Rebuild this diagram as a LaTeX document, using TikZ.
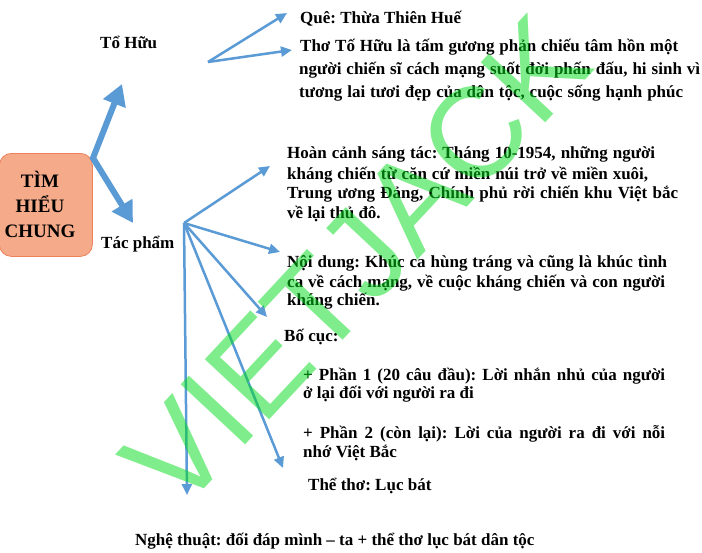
\documentclass[tikz,border=0pt]{standalone}
\usepackage{fontspec}
\setmainfont{Liberation Serif}
\setsansfont{Liberation Sans}
\usetikzlibrary{arrows.meta}
\definecolor{arblue}{RGB}{91,155,213}
\definecolor{boxfill}{RGB}{245,170,138}
\definecolor{boxline}{RGB}{237,130,90}
\definecolor{wmgreen}{RGB}{0,221,25}
\tikzset{
  txt/.style={anchor=base west, inner sep=0pt, font=\fontsize{17}{20}\selectfont\bfseries\frenchspacing},
  thinarrow/.style={draw=arblue, line width=2.5pt, -{Triangle[length=11pt,width=10pt]}},
  thickarrow/.style={draw=arblue, line width=6pt, line join=miter,
     {Triangle[length=21pt,width=23pt]}-{Triangle[length=21pt,width=23pt]}},
}
\begin{document}
\begin{tikzpicture}[x=1pt,y=-1pt]
\useasboundingbox (0,0) rectangle (702,552);
\fill[white] (0,0) rectangle (702,552);

% central box
\node[draw=boxline, fill=boxfill, line width=0.8pt, rounded corners=12pt,
      minimum width=93pt, minimum height=103pt, anchor=north west, inner sep=0pt] (tim) at (-1,153) {};
\node[font=\fontsize{19}{25}\selectfont\bfseries, align=center, inner sep=0pt] (timtxt) at (40,204) {TÌM\\HIỂU\\CHUNG};

% thick arrows
\coordinate (J) at (93,158);
\coordinate (upT) at (122,84);
\coordinate (dnT) at (133,223);
\draw[thickarrow] (upT) -- (J) -- (dnT);

% branch labels
\node[txt] (tohuu) at (100,48) {Tổ Hữu};
\node[txt] (tacpham) at (101,248) {Tác phẩm};

% To Huu arrows
\coordinate (T) at (208,62);
\coordinate (Tq) at (287,13);
\coordinate (Tt) at (292,50);
\draw[thinarrow] (T) -- (Tq);
\draw[thinarrow] (T) -- (Tt);

\node[txt] (que) at (300,23) {Quê: Thừa Thiên Huế};
\node[txt] (tho1) at (300,51) {\makebox[378pt][s]{Thơ Tố Hữu là tấm gương phản chiếu tâm hồn một}};
\node[txt] (tho2) at (299,74) {\makebox[401pt][s]{người chiến sĩ cách mạng suốt đời phấn đấu, hi sinh vì}};
\node[txt] (tho3) at (299,97) {\makebox[384pt][s]{tương lai tươi đẹp của dân tộc, cuộc sống hạnh phúc}};

% Tac pham arrows
\coordinate (P) at (184,223);
\coordinate (P1) at (270,166);
\coordinate (P2) at (280,252);
\coordinate (P3) at (267,317);
\coordinate (P4) at (283,468);
\coordinate (P5) at (187,495);
\foreach \t in {P1,P2,P3,P4,P5} \draw[thinarrow] (P) -- (\t);

\node[txt] (hc1) at (287,158) {\makebox[368pt][s]{Hoàn cảnh sáng tác: Tháng 10-1954, những người}};
\node[txt] (hc2) at (287,179) {\makebox[361pt][s]{kháng chiến từ căn cứ miền núi trở về miền xuôi,}};
\node[txt] (hc3) at (287,198) {\makebox[391pt][s]{Trung ương Đảng, Chính phủ rời chiến khu Việt bắc}};
\node[txt] (hc4) at (287,218) {về lại thủ đô.};

\node[txt] (nd1) at (287,267) {\makebox[380pt][s]{Nội dung: Khúc ca hùng tráng và cũng là khúc tình}};
\node[txt] (nd2) at (287,287) {\makebox[378pt][s]{ca về cách mạng, về cuộc kháng chiến và con người}};
\node[txt] (nd3) at (287,305) {kháng chiến.};

\node[txt] (bc) at (284,341) {Bố cục:};
\node[txt] (p11) at (303,380) {\makebox[362pt][s]{+ Phần 1 (20 câu đầu): Lời nhắn nhủ của người}};
\node[txt] (p12) at (303,398) {ở lại đối với người ra đi};
\node[txt] (p21) at (303,438) {\makebox[362pt][s]{+ Phần 2 (còn lại): Lời của người ra đi với nỗi}};
\node[txt] (p22) at (303,457) {nhớ Việt Bắc};

\node[txt] (theTho) at (308,490) {Thể thơ: Lục bát};
\node[txt] (nghethuat) at (135,545) {Nghệ thuật: đối đáp mình – ta + thể thơ lục bát dân tộc};

% watermark
\node[font=\fontsize{128}{128}\selectfont\sffamily, text=wmgreen, opacity=0.5, rotate=47, inner sep=0pt] (wm) at (356,262) {VIETJACK};
\end{tikzpicture}
\end{document}
